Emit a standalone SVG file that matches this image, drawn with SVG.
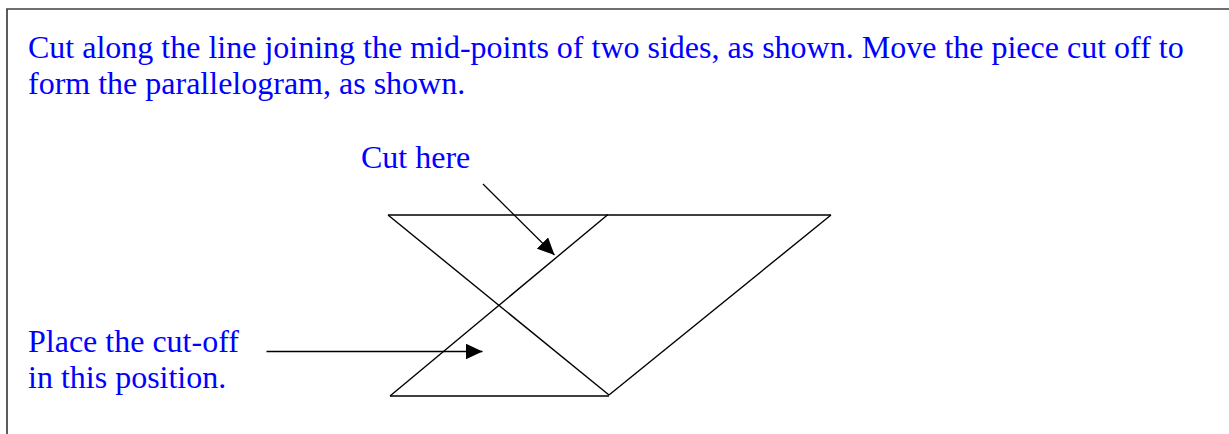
<svg xmlns="http://www.w3.org/2000/svg" width="1229" height="434" viewBox="0 0 1229 434">
  <defs>
    <marker id="ah" markerUnits="userSpaceOnUse" markerWidth="17" markerHeight="16" refX="17" refY="8" orient="auto">
      <path d="M0,0 L17,8 L0,16 z" fill="#000"/>
    </marker>
    <style>
      .t { font-family: "Liberation Serif", "Times New Roman", serif; font-size: 32px; fill: #0000ff; }
      .s { fill: none; stroke: #000; stroke-width: 1.4; }
      .a { fill: none; stroke: #000; stroke-width: 1.3; marker-end: url(#ah); }
    </style>
  </defs>
  <rect width="1229" height="434" fill="#fff"/>
  <path d="M7,440 L7,9 L1240,9" fill="none" stroke="#404040" stroke-width="1.7"/>

  <g id="instructions">
    <text class="t" x="28" y="57.5">Cut along the line joining the mid-points of two sides, as shown. Move the piece cut off to</text>
    <text class="t" x="28" y="93.5">form the parallelogram, as shown.</text>
  </g>

  <g id="shape">
    <line class="s" x1="388" y1="215" x2="831" y2="215"/>
    <line class="s" x1="388" y1="215" x2="609" y2="395"/>
    <line class="s" x1="831" y1="215" x2="609" y2="395"/>
    <line class="s" x1="608" y1="214.5" x2="390" y2="396"/>
    <line class="s" x1="390" y1="396" x2="609" y2="396"/>
  </g>

  <g id="label-cut">
    <text class="t" x="361" y="167.5">Cut here</text>
  </g>
  <g id="label-place">
    <text class="t" x="28" y="351.5">Place the cut-off</text>
    <text class="t" x="28" y="388">in this position.</text>
  </g>

  <g id="connectors">
    <line class="a" x1="483" y1="184" x2="554.5" y2="255"/>
    <line class="a" x1="266.5" y1="351.5" x2="482.5" y2="351.5"/>
  </g>
</svg>
